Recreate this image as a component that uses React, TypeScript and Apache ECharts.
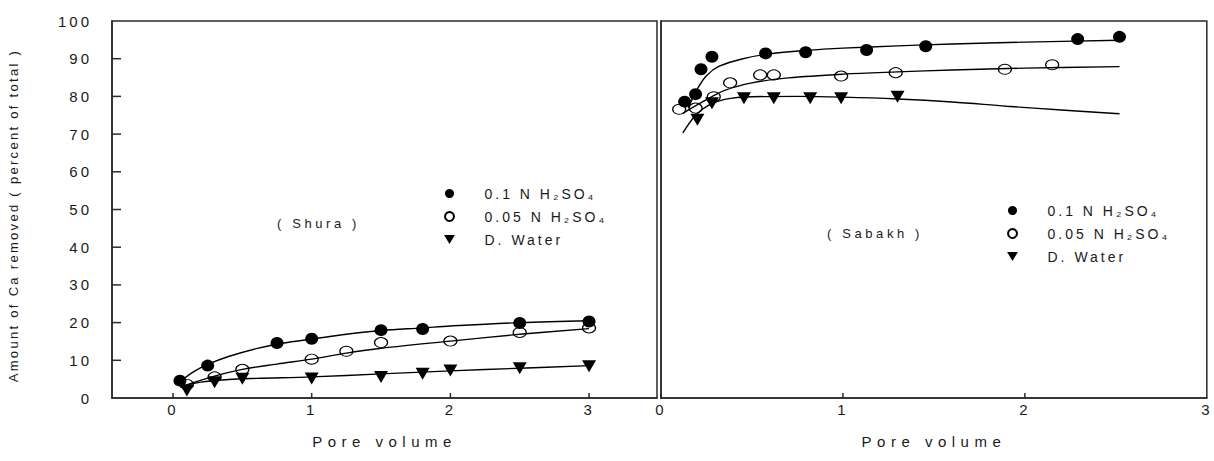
import React, { useEffect, useRef } from "react";
import * as echarts from "echarts";

// ---------- data ----------
const SERIES_H01 = "0.1 N H₂SO₄";
const SERIES_H005 = "0.05 N H₂SO₄";
const SERIES_DW = "D. Water";

const xTickValues = [0, 1, 2, 3];
const yTickValues = [10, 20, 30, 40, 50, 60, 70, 80, 90];

// Shura (left panel) measured points
const shuraH01X = [0.05, 0.25, 0.75, 1.0, 1.5, 1.8, 2.5, 3.0];
const shuraH01Y = [4.6, 8.6, 14.6, 15.7, 18.0, 18.3, 19.9, 20.3];
const shuraH005X = [0.1, 0.3, 0.5, 1.0, 1.25, 1.5, 2.0, 2.5, 3.0];
const shuraH005Y = [3.6, 5.6, 7.6, 10.3, 12.4, 14.7, 15.1, 17.4, 18.6];
const shuraDWX = [0.1, 0.3, 0.5, 1.0, 1.5, 1.8, 2.0, 2.5, 3.0];
const shuraDWY = [2.0, 4.2, 5.1, 5.2, 5.6, 6.4, 7.3, 7.9, 8.4];

// Shura fitted curves
const shuraH01CurveX = [0.05, 0.15, 0.25, 0.4, 0.6, 0.8, 1.0, 1.25, 1.5, 1.8, 2.0, 2.5, 3.0];
const shuraH01CurveY = [4.3, 7.0, 8.9, 11.0, 13.1, 14.6, 15.6, 16.9, 17.9, 18.6, 19.1, 20.0, 20.5];
const shuraH005CurveX = [0.08, 0.3, 0.5, 0.75, 1.0, 1.25, 1.5, 2.0, 2.5, 3.0];
const shuraH005CurveY = [3.3, 5.8, 7.6, 9.0, 10.3, 11.9, 13.2, 15.1, 16.9, 18.4];
const shuraDWCurveX = [0.05, 0.2, 0.4, 0.6, 1.0, 1.5, 2.0, 2.5, 3.0];
const shuraDWCurveY = [2.9, 4.2, 4.9, 5.2, 5.6, 6.4, 7.2, 7.9, 8.6];

// Sabakh (right panel) measured points
const sabakhH01X = [0.13, 0.19, 0.22, 0.28, 0.575, 0.795, 1.13, 1.455, 2.29, 2.52];
const sabakhH01Y = [78.6, 80.6, 87.2, 90.5, 91.4, 91.7, 92.3, 93.3, 95.2, 95.8];
const sabakhH005X = [0.1, 0.19, 0.29, 0.38, 0.545, 0.62, 0.99, 1.29, 1.89, 2.15];
const sabakhH005Y = [76.6, 76.9, 79.9, 83.6, 85.7, 85.7, 85.4, 86.3, 87.2, 88.4];
const sabakhDWX = [0.2, 0.28, 0.456, 0.62, 0.82, 0.99, 1.3];
const sabakhDWY = [73.8, 78.2, 79.5, 79.5, 79.5, 79.5, 79.9];

// Sabakh fitted curves
const sabakhH01CurveX = [0.15, 0.2, 0.25, 0.32, 0.45, 0.6, 0.8, 1.0, 1.3, 1.6, 2.0, 2.52];
const sabakhH01CurveY = [77, 82, 85.5, 88, 90, 91.3, 92.2, 92.8, 93.4, 93.9, 94.4, 94.9];
const sabakhH005CurveX = [0.12, 0.23, 0.35, 0.5, 0.7, 1.0, 1.3, 1.6, 2.0, 2.52];
const sabakhH005CurveY = [75.5, 78.6, 81.6, 83.6, 84.9, 85.9, 86.5, 87.0, 87.5, 87.9];
const sabakhDWCurveX = [0.12, 0.19, 0.26, 0.35, 0.5, 0.75, 1.0, 1.3, 1.6, 1.9, 2.2, 2.52];
const sabakhDWCurveY = [70.3, 75, 77.6, 79.2, 79.9, 80.0, 79.8, 79.3, 78.5, 77.4, 76.4, 75.4];

const zip = (xs: number[], ys: number[]) => xs.map((x, i) => [x, ys[i]]);

// ---------- styles ----------
const FONT = 'Arial, "Liberation Sans", Helvetica, sans-serif';
const TEXT = "#1a1a1a";
const INK = "#000";
const FRAME = "#2a2a2a";

const L_MIN = -0.44;
const L_MAX = 3.49;

function pointSeries(name: string, kind: "filled" | "open" | "tri", data: number[][], idx: number) {
  const base: any = {
    type: "scatter",
    name,
    xAxisIndex: idx,
    yAxisIndex: idx,
    data,
    z: 5,
    emphasis: { disabled: true },
  };
  if (kind === "filled") {
    base.symbol = "circle";
    base.symbolSize = [13, 12];
    base.itemStyle = { color: INK, opacity: 1 };
  } else if (kind === "open") {
    base.symbol = "circle";
    base.symbolSize = [13, 10];
    base.itemStyle = { color: "rgba(255,255,255,0)", borderColor: INK, borderWidth: 1.1, opacity: 1 };
  } else {
    base.symbol = "triangle";
    base.symbolRotate = 180;
    base.symbolSize = [14, 12];
    base.itemStyle = { color: INK, opacity: 1 };
  }
  return base;
}

function curveSeries(name: string, data: number[][], idx: number) {
  return {
    type: "line",
    name,
    xAxisIndex: idx,
    yAxisIndex: idx,
    data,
    smooth: 0.35,
    showSymbol: false,
    symbol: "none",
    lineStyle: { color: INK, width: 1.4 },
    z: 3,
    silent: true,
  };
}

// tick marks drawn through the axes' own scales (custom series)
function tickSeries(name: string, idx: number, data: number[][], dx: number, dy: number) {
  return {
    type: "custom",
    name,
    xAxisIndex: idx,
    yAxisIndex: idx,
    data,
    clip: false,
    silent: true,
    z: 6,
    renderItem: (_params: any, api: any) => {
      const p = api.coord([api.value(0), api.value(1)]);
      return {
        type: "line",
        shape: { x1: p[0], y1: p[1], x2: p[0] + dx, y2: p[1] + dy },
        style: { stroke: FRAME, lineWidth: 1.5 },
      };
    },
  };
}

function spacingFor(s: string): number {
  if (/^\d+$/.test(s)) return 3;
  if (s === "Pore volume") return 5.5;
  if (s.startsWith("Amount")) return 2.3;
  if (s.startsWith("(")) return 3.6;
  return 3;
}

export default function App() {
  const ref = useRef<HTMLDivElement>(null);

  useEffect(() => {
    if (!ref.current) return;
    const el = ref.current;
    const chart = echarts.init(el, undefined, { renderer: "svg" });

    const axisLine = { show: true, onZero: false, lineStyle: { color: FRAME, width: 1.5 } };

    const legendData = [
      { name: SERIES_H01, icon: "circle" },
      { name: SERIES_H005, icon: "circle" },
      { name: SERIES_DW, icon: "path://M0,0L12,0L6,10Z" },
    ];
    const legendText = { fontSize: 14, color: TEXT, lineHeight: 15, padding: [0, 0, 0, 24], fontFamily: FONT };

    const option: any = {
      animation: false,
      backgroundColor: "#fff",
      textStyle: { fontFamily: FONT, color: TEXT },
      grid: [
        { left: 112, top: 21, width: 545, height: 377, show: true, borderColor: FRAME, borderWidth: 1.5 },
        { left: 661, top: 21, width: 546, height: 377, show: true, borderColor: FRAME, borderWidth: 1.5 },
      ],
      xAxis: [
        {
          type: "value",
          gridIndex: 0,
          min: L_MIN,
          max: L_MAX,
          splitLine: { show: false },
          axisLine,
          axisTick: { show: false },
          axisLabel: { customValues: xTickValues, fontSize: 15, color: TEXT, margin: 4, fontFamily: FONT },
          name: "Pore volume",
          nameLocation: "middle",
          nameGap: 36,
          nameTextStyle: { fontSize: 15, color: TEXT, fontFamily: FONT },
        },
        {
          type: "value",
          gridIndex: 1,
          min: 0,
          max: 3,
          interval: 1,
          splitLine: { show: false },
          axisLine,
          axisTick: { show: false },
          axisLabel: { fontSize: 15, color: TEXT, margin: 4, fontFamily: FONT },
          name: "Pore volume",
          nameLocation: "middle",
          nameGap: 36,
          nameTextStyle: { fontSize: 15, color: TEXT, fontFamily: FONT },
        },
      ],
      yAxis: [
        {
          type: "value",
          gridIndex: 0,
          min: 0,
          max: 100,
          interval: 10,
          splitLine: { show: false },
          axisLine,
          axisTick: { show: false },
          axisLabel: { fontSize: 15, color: TEXT, margin: 20, fontFamily: FONT },
          name: "Amount of Ca removed ( percent of total )",
          nameLocation: "middle",
          nameRotate: 90,
          nameGap: 92,
          nameTextStyle: { fontSize: 13, color: TEXT, fontFamily: FONT, padding: [0, 12, 0, 0] },
        },
        {
          type: "value",
          gridIndex: 1,
          min: 0,
          max: 100,
          interval: 10,
          splitLine: { show: false },
          axisLine,
          axisTick: { show: false },
          axisLabel: { show: false },
        },
      ],
      legend: [
        {
          left: 444,
          top: 186,
          orient: "vertical",
          padding: 0,
          itemWidth: 12,
          itemHeight: 9,
          itemGap: 8,
          selectedMode: false,
          textStyle: legendText,
          data: legendData,
        },
        {
          left: 1007,
          top: 203,
          orient: "vertical",
          padding: 0,
          itemWidth: 12,
          itemHeight: 9,
          itemGap: 8,
          selectedMode: false,
          textStyle: legendText,
          data: legendData,
        },
      ],
      graphic: [
        {
          type: "text",
          x: 277,
          y: 223,
          style: { text: "( Shura )", fill: TEXT, font: `13px ${FONT}`, verticalAlign: "middle" },
        },
        {
          type: "text",
          x: 827,
          y: 233,
          style: { text: "( Sabakh )", fill: TEXT, font: `13px ${FONT}`, verticalAlign: "middle" },
        },
      ],
      series: [
        tickSeries("yTicks", 0, yTickValues.map((v) => [L_MIN, v]), 9, 0),
        tickSeries("xTicksL", 0, xTickValues.map((v) => [v, 0]), 0, -5),
        tickSeries("xTicksR", 1, xTickValues.slice(0, 3).map((v) => [v, 0]), 0, -5),
        curveSeries("c1", zip(shuraH01CurveX, shuraH01CurveY), 0),
        curveSeries("c2", zip(shuraH005CurveX, shuraH005CurveY), 0),
        curveSeries("c3", zip(shuraDWCurveX, shuraDWCurveY), 0),
        pointSeries(SERIES_H01, "filled", zip(shuraH01X, shuraH01Y), 0),
        pointSeries(SERIES_H005, "open", zip(shuraH005X, shuraH005Y), 0),
        pointSeries(SERIES_DW, "tri", zip(shuraDWX, shuraDWY), 0),
        curveSeries("c4", zip(sabakhH01CurveX, sabakhH01CurveY), 1),
        curveSeries("c5", zip(sabakhH005CurveX, sabakhH005CurveY), 1),
        curveSeries("c6", zip(sabakhDWCurveX, sabakhDWCurveY), 1),
        pointSeries(SERIES_H01, "filled", zip(sabakhH01X, sabakhH01Y), 1),
        pointSeries(SERIES_H005, "open", zip(sabakhH005X, sabakhH005Y), 1),
        pointSeries(SERIES_DW, "tri", zip(sabakhDWX, sabakhDWY), 1),
      ],
    };

    chart.setOption(option);

    const applySpacing = () => {
      el.querySelectorAll("text").forEach((t) => {
        const s = (t.textContent || "").trim();
        if (!s) return;
        (t as SVGTextElement).style.letterSpacing = `${spacingFor(s)}px`;
      });
    };
    applySpacing();
    chart.on("finished", applySpacing);

    return () => {
      chart.dispose();
    };
  }, []);

  return (
    <div
      ref={ref}
      style={{ position: "absolute", left: 0, top: 0, width: 1214, height: 461 }}
    />
  );
}
